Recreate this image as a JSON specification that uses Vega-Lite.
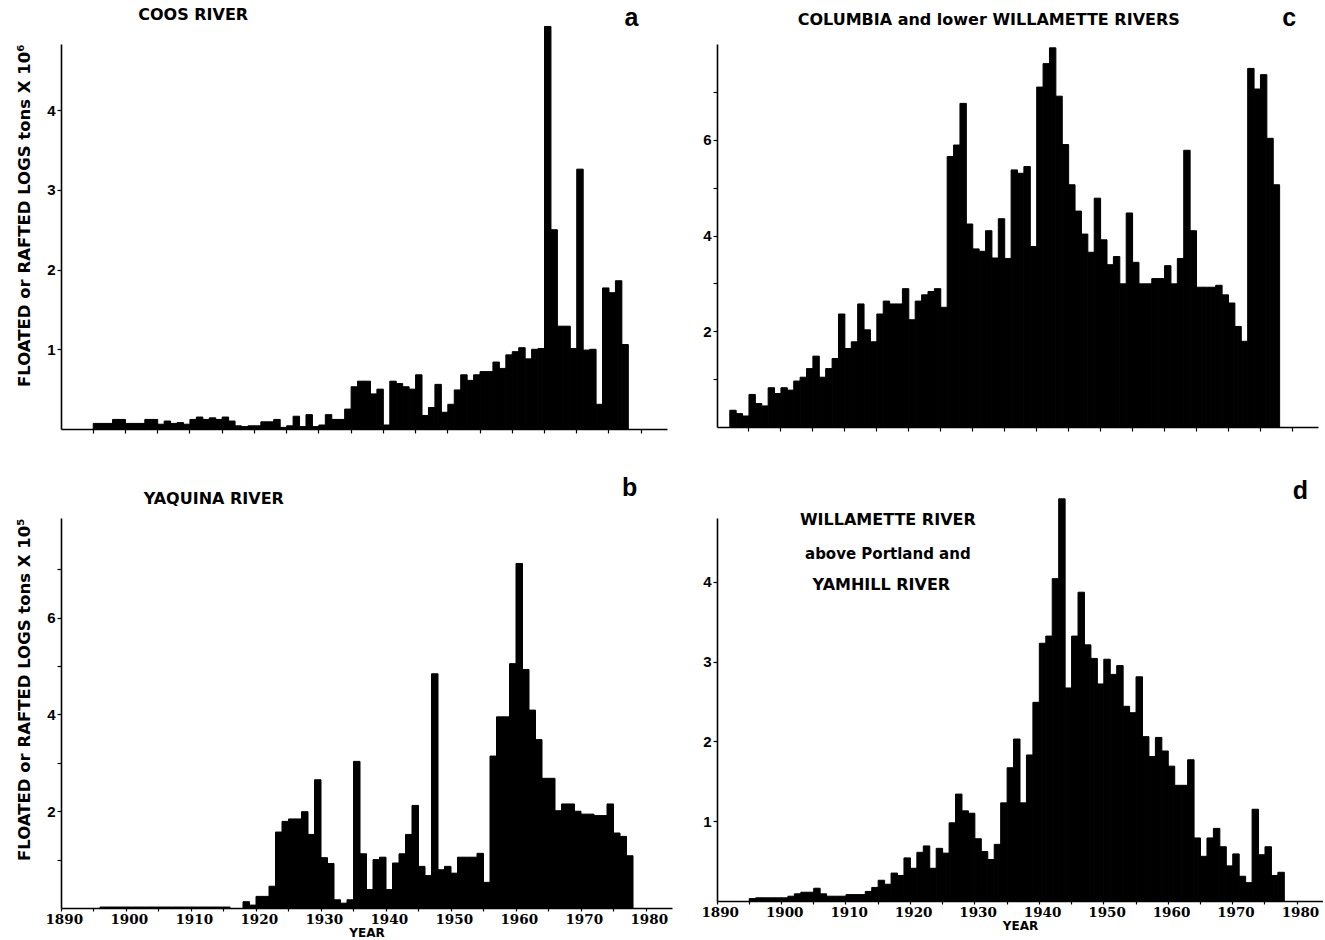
{
  "$schema": "https://vega.github.io/schema/vega-lite/v6.json",
  "background": "white",
  "padding": {"left": 16, "top": 5, "right": 0, "bottom": 0},
  "config": {
    "view": {"stroke": null},
    "font": "Liberation Sans",
    "axis": {"grid": false, "domainColor": "black", "tickColor": "black", "labelColor": "black", "titleColor": "black", "domainWidth": 1.6, "tickWidth": 1.2, "tickSize": 4}
  },
  "columns": 2,
  "bounds": "flush",
  "spacing": {"row": 89, "column": 45},
  "datasets": {
    "coos": [{"year":1895,"value":0.07},{"year":1896,"value":0.07},{"year":1897,"value":0.07},{"year":1898,"value":0.12},{"year":1899,"value":0.12},{"year":1900,"value":0.07},{"year":1901,"value":0.07},{"year":1902,"value":0.07},{"year":1903,"value":0.12},{"year":1904,"value":0.12},{"year":1905,"value":0.06},{"year":1906,"value":0.1},{"year":1907,"value":0.07},{"year":1908,"value":0.08},{"year":1909,"value":0.06},{"year":1910,"value":0.12},{"year":1911,"value":0.15},{"year":1912,"value":0.12},{"year":1913,"value":0.14},{"year":1914,"value":0.12},{"year":1915,"value":0.15},{"year":1916,"value":0.1},{"year":1917,"value":0.04},{"year":1918,"value":0.03},{"year":1919,"value":0.04},{"year":1920,"value":0.04},{"year":1921,"value":0.09},{"year":1922,"value":0.09},{"year":1923,"value":0.12},{"year":1924,"value":0.02},{"year":1925,"value":0.04},{"year":1926,"value":0.16},{"year":1927,"value":0.03},{"year":1928,"value":0.18},{"year":1929,"value":0.03},{"year":1930,"value":0.05},{"year":1931,"value":0.18},{"year":1932,"value":0.12},{"year":1933,"value":0.12},{"year":1934,"value":0.25},{"year":1935,"value":0.53},{"year":1936,"value":0.6},{"year":1937,"value":0.6},{"year":1938,"value":0.44},{"year":1939,"value":0.5},{"year":1940,"value":0.05},{"year":1941,"value":0.6},{"year":1942,"value":0.57},{"year":1943,"value":0.53},{"year":1944,"value":0.5},{"year":1945,"value":0.68},{"year":1946,"value":0.17},{"year":1947,"value":0.27},{"year":1948,"value":0.56},{"year":1949,"value":0.21},{"year":1950,"value":0.31},{"year":1951,"value":0.49},{"year":1952,"value":0.68},{"year":1953,"value":0.61},{"year":1954,"value":0.68},{"year":1955,"value":0.72},{"year":1956,"value":0.72},{"year":1957,"value":0.84},{"year":1958,"value":0.76},{"year":1959,"value":0.93},{"year":1960,"value":0.97},{"year":1961,"value":1.02},{"year":1962,"value":0.88},{"year":1963,"value":1.0},{"year":1964,"value":1.01},{"year":1965,"value":5.05},{"year":1966,"value":2.5},{"year":1967,"value":1.29},{"year":1968,"value":1.29},{"year":1969,"value":1.01},{"year":1970,"value":3.26},{"year":1971,"value":0.99},{"year":1972,"value":1.0},{"year":1973,"value":0.31},{"year":1974,"value":1.77},{"year":1975,"value":1.71},{"year":1976,"value":1.86},{"year":1977,"value":1.06}],
    "yaquina": [{"year":1896,"value":0.02},{"year":1897,"value":0.02},{"year":1898,"value":0.02},{"year":1899,"value":0.02},{"year":1900,"value":0.02},{"year":1901,"value":0.02},{"year":1902,"value":0.02},{"year":1903,"value":0.02},{"year":1904,"value":0.02},{"year":1905,"value":0.02},{"year":1906,"value":0.02},{"year":1907,"value":0.02},{"year":1908,"value":0.02},{"year":1909,"value":0.02},{"year":1910,"value":0.02},{"year":1911,"value":0.02},{"year":1912,"value":0.02},{"year":1913,"value":0.02},{"year":1914,"value":0.02},{"year":1915,"value":0.02},{"year":1918,"value":0.13},{"year":1919,"value":0.06},{"year":1920,"value":0.24},{"year":1921,"value":0.24},{"year":1922,"value":0.45},{"year":1923,"value":1.57},{"year":1924,"value":1.79},{"year":1925,"value":1.84},{"year":1926,"value":1.84},{"year":1927,"value":1.99},{"year":1928,"value":1.52},{"year":1929,"value":2.65},{"year":1930,"value":1.04},{"year":1931,"value":0.92},{"year":1932,"value":0.17},{"year":1933,"value":0.1},{"year":1934,"value":0.17},{"year":1935,"value":3.03},{"year":1936,"value":1.12},{"year":1937,"value":0.38},{"year":1938,"value":1.0},{"year":1939,"value":1.05},{"year":1940,"value":0.38},{"year":1941,"value":0.93},{"year":1942,"value":1.12},{"year":1943,"value":1.52},{"year":1944,"value":2.12},{"year":1945,"value":0.86},{"year":1946,"value":0.67},{"year":1947,"value":4.84},{"year":1948,"value":0.79},{"year":1949,"value":0.86},{"year":1950,"value":0.72},{"year":1951,"value":1.05},{"year":1952,"value":1.05},{"year":1953,"value":1.05},{"year":1954,"value":1.13},{"year":1955,"value":0.53},{"year":1956,"value":3.14},{"year":1957,"value":3.95},{"year":1958,"value":3.95},{"year":1959,"value":5.05},{"year":1960,"value":7.12},{"year":1961,"value":4.93},{"year":1962,"value":4.09},{"year":1963,"value":3.48},{"year":1964,"value":2.68},{"year":1965,"value":2.68},{"year":1966,"value":2.01},{"year":1967,"value":2.15},{"year":1968,"value":2.15},{"year":1969,"value":2.0},{"year":1970,"value":1.94},{"year":1971,"value":1.94},{"year":1972,"value":1.91},{"year":1973,"value":1.91},{"year":1974,"value":2.15},{"year":1975,"value":1.55},{"year":1976,"value":1.48},{"year":1977,"value":1.08}],
    "columbia": [{"year":1892,"value":0.35},{"year":1893,"value":0.28},{"year":1894,"value":0.23},{"year":1895,"value":0.68},{"year":1896,"value":0.49},{"year":1897,"value":0.44},{"year":1898,"value":0.82},{"year":1899,"value":0.7},{"year":1900,"value":0.82},{"year":1901,"value":0.77},{"year":1902,"value":0.96},{"year":1903,"value":1.04},{"year":1904,"value":1.22},{"year":1905,"value":1.48},{"year":1906,"value":1.04},{"year":1907,"value":1.22},{"year":1908,"value":1.43},{"year":1909,"value":2.36},{"year":1910,"value":1.64},{"year":1911,"value":1.78},{"year":1912,"value":2.57},{"year":1913,"value":2.03},{"year":1914,"value":1.78},{"year":1915,"value":2.36},{"year":1916,"value":2.63},{"year":1917,"value":2.57},{"year":1918,"value":2.57},{"year":1919,"value":2.89},{"year":1920,"value":2.24},{"year":1921,"value":2.63},{"year":1922,"value":2.76},{"year":1923,"value":2.83},{"year":1924,"value":2.89},{"year":1925,"value":2.5},{"year":1926,"value":5.65},{"year":1927,"value":5.89},{"year":1928,"value":6.76},{"year":1929,"value":4.24},{"year":1930,"value":3.72},{"year":1931,"value":3.67},{"year":1932,"value":4.1},{"year":1933,"value":3.53},{"year":1934,"value":4.35},{"year":1935,"value":3.52},{"year":1936,"value":5.37},{"year":1937,"value":5.3},{"year":1938,"value":5.44},{"year":1939,"value":3.77},{"year":1940,"value":7.1},{"year":1941,"value":7.59},{"year":1942,"value":7.92},{"year":1943,"value":6.91},{"year":1944,"value":5.9},{"year":1945,"value":5.06},{"year":1946,"value":4.51},{"year":1947,"value":4.03},{"year":1948,"value":3.65},{"year":1949,"value":4.78},{"year":1950,"value":3.91},{"year":1951,"value":3.39},{"year":1952,"value":3.56},{"year":1953,"value":2.99},{"year":1954,"value":4.47},{"year":1955,"value":3.44},{"year":1956,"value":2.99},{"year":1957,"value":2.99},{"year":1958,"value":3.1},{"year":1959,"value":3.1},{"year":1960,"value":3.37},{"year":1961,"value":2.99},{"year":1962,"value":3.52},{"year":1963,"value":5.78},{"year":1964,"value":4.1},{"year":1965,"value":2.92},{"year":1966,"value":2.92},{"year":1967,"value":2.92},{"year":1968,"value":2.96},{"year":1969,"value":2.76},{"year":1970,"value":2.59},{"year":1971,"value":2.1},{"year":1972,"value":1.79},{"year":1973,"value":7.49},{"year":1974,"value":7.06},{"year":1975,"value":7.36},{"year":1976,"value":6.03},{"year":1977,"value":5.06}],
    "willamette": [{"year":1895,"value":0.03},{"year":1896,"value":0.04},{"year":1897,"value":0.04},{"year":1898,"value":0.04},{"year":1899,"value":0.04},{"year":1900,"value":0.04},{"year":1901,"value":0.06},{"year":1902,"value":0.09},{"year":1903,"value":0.11},{"year":1904,"value":0.11},{"year":1905,"value":0.16},{"year":1906,"value":0.09},{"year":1907,"value":0.06},{"year":1908,"value":0.06},{"year":1909,"value":0.06},{"year":1910,"value":0.08},{"year":1911,"value":0.08},{"year":1912,"value":0.08},{"year":1913,"value":0.12},{"year":1914,"value":0.17},{"year":1915,"value":0.26},{"year":1916,"value":0.21},{"year":1917,"value":0.35},{"year":1918,"value":0.32},{"year":1919,"value":0.54},{"year":1920,"value":0.41},{"year":1921,"value":0.61},{"year":1922,"value":0.69},{"year":1923,"value":0.41},{"year":1924,"value":0.66},{"year":1925,"value":0.6},{"year":1926,"value":0.98},{"year":1927,"value":1.34},{"year":1928,"value":1.13},{"year":1929,"value":1.1},{"year":1930,"value":0.78},{"year":1931,"value":0.62},{"year":1932,"value":0.52},{"year":1933,"value":0.71},{"year":1934,"value":1.23},{"year":1935,"value":1.67},{"year":1936,"value":2.03},{"year":1937,"value":1.23},{"year":1938,"value":1.83},{"year":1939,"value":2.49},{"year":1940,"value":3.23},{"year":1941,"value":3.32},{"year":1942,"value":4.04},{"year":1943,"value":5.04},{"year":1944,"value":2.67},{"year":1945,"value":3.32},{"year":1946,"value":3.87},{"year":1947,"value":3.21},{"year":1948,"value":3.04},{"year":1949,"value":2.72},{"year":1950,"value":3.03},{"year":1951,"value":2.84},{"year":1952,"value":2.95},{"year":1953,"value":2.44},{"year":1954,"value":2.36},{"year":1955,"value":2.81},{"year":1956,"value":2.06},{"year":1957,"value":1.81},{"year":1958,"value":2.05},{"year":1959,"value":1.88},{"year":1960,"value":1.69},{"year":1961,"value":1.45},{"year":1962,"value":1.45},{"year":1963,"value":1.77},{"year":1964,"value":0.79},{"year":1965,"value":0.56},{"year":1966,"value":0.79},{"year":1967,"value":0.91},{"year":1968,"value":0.68},{"year":1969,"value":0.44},{"year":1970,"value":0.59},{"year":1971,"value":0.31},{"year":1972,"value":0.23},{"year":1973,"value":1.15},{"year":1974,"value":0.58},{"year":1975,"value":0.68},{"year":1976,"value":0.32},{"year":1977,"value":0.36}]
  },
  "concat": [
    {
      "width": 606, "height": 385,
      "data": {"name": "coos"},
      "layer": [
        {
          "mark": {"type": "bar", "color": "black", "stroke": "black", "strokeWidth": 1},
          "encoding": {
            "x": {"field": "year", "type": "ordinal", "sort": null,
              "scale": {"type": "band", "paddingInner": 0, "paddingOuter": 0, "domain": [1890,1891,1892,1893,1894,1895,1896,1897,1898,1899,1900,1901,1902,1903,1904,1905,1906,1907,1908,1909,1910,1911,1912,1913,1914,1915,1916,1917,1918,1919,1920,1921,1922,1923,1924,1925,1926,1927,1928,1929,1930,1931,1932,1933,1934,1935,1936,1937,1938,1939,1940,1941,1942,1943,1944,1945,1946,1947,1948,1949,1950,1951,1952,1953,1954,1955,1956,1957,1958,1959,1960,1961,1962,1963,1964,1965,1966,1967,1968,1969,1970,1971,1972,1973,1974,1975,1976,1977,1978,1979,1980,1981,1982,1983]},
              "axis": {"title": null, "labels": false, "bandPosition": 0, "values": [1895,1900,1905,1910,1915,1920,1925,1930,1935,1940,1945,1950,1955,1960,1965,1970,1975,1980]}},
            "y": {"field": "value", "type": "quantitative",
              "scale": {"domain": [0, 4.83], "nice": false},
              "axis": {"values": [1,2,3,4], "format": "d", "labelFont": "Liberation Sans", "labelFontWeight": "bold", "labelFontSize": 15, "labelPadding": 2,
                "title": "FLOATED or RAFTED LOGS tons X 10⁶", "titleFont": "DejaVu Sans", "titleFontWeight": "bold", "titleFontSize": 16.5, "titlePadding": 14, "titleAnchor": "end"}}
          }
        },
        {
          "data": {"values": [{"t": "COOS RIVER"}]},
          "mark": {"type": "text", "font": "DejaVu Sans", "fontWeight": "bold", "fontSize": 16, "align": "center", "baseline": "middle", "color": "black"},
          "encoding": {"x": {"datum": 1910, "type": "ordinal"}, "y": {"datum": 5.19, "type": "quantitative"}, "text": {"field": "t"}}
        },
        {
          "data": {"values": [{"t": "a"}]},
          "mark": {"type": "text", "font": "Liberation Sans", "fontWeight": "bold", "fontSize": 25, "align": "center", "baseline": "middle", "color": "black"},
          "encoding": {"x": {"datum": 1978, "type": "ordinal"}, "y": {"datum": 5.16, "type": "quantitative"}, "text": {"field": "t"}}
        }
      ]
    },
    {
      "width": 601, "height": 383,
      "data": {"name": "columbia"},
      "layer": [
        {
          "mark": {"type": "bar", "color": "black", "stroke": "black", "strokeWidth": 1},
          "encoding": {
            "x": {"field": "year", "type": "ordinal", "sort": null,
              "scale": {"type": "band", "paddingInner": 0, "paddingOuter": 0, "domain": [1890,1891,1892,1893,1894,1895,1896,1897,1898,1899,1900,1901,1902,1903,1904,1905,1906,1907,1908,1909,1910,1911,1912,1913,1914,1915,1916,1917,1918,1919,1920,1921,1922,1923,1924,1925,1926,1927,1928,1929,1930,1931,1932,1933,1934,1935,1936,1937,1938,1939,1940,1941,1942,1943,1944,1945,1946,1947,1948,1949,1950,1951,1952,1953,1954,1955,1956,1957,1958,1959,1960,1961,1962,1963,1964,1965,1966,1967,1968,1969,1970,1971,1972,1973,1974,1975,1976,1977,1978,1979,1980,1981,1982,1983]},
              "axis": {"title": null, "labels": false, "bandPosition": 0, "values": [1895,1900,1905,1910,1915,1920,1925,1930,1935,1940,1945,1950,1955,1960,1965,1970,1975,1980]}},
            "y": {"field": "value", "type": "quantitative",
              "scale": {"domain": [0, 8], "nice": false},
              "axis": {"values": [1,2,3,4,5,6,7], "format": "d", "labelExpr": "datum.value % 2 == 0 ? datum.label : ''", "labelFont": "Liberation Sans", "labelFontWeight": "bold", "labelFontSize": 15, "labelPadding": 2, "title": null}}
          }
        },
        {
          "data": {"values": [{"t": "COLUMBIA and lower WILLAMETTE RIVERS"}]},
          "mark": {"type": "text", "font": "DejaVu Sans", "fontWeight": "bold", "fontSize": 16, "align": "center", "baseline": "middle", "color": "black"},
          "encoding": {"x": {"datum": 1932, "type": "ordinal"}, "y": {"datum": 8.5, "type": "quantitative"}, "text": {"field": "t"}}
        },
        {
          "data": {"values": [{"t": "c"}]},
          "mark": {"type": "text", "font": "Liberation Sans", "fontWeight": "bold", "fontSize": 25, "align": "center", "baseline": "middle", "color": "black"},
          "encoding": {"x": {"datum": 1979, "type": "ordinal"}, "y": {"datum": 8.55, "type": "quantitative"}, "text": {"field": "t"}}
        }
      ]
    },
    {
      "width": 611, "height": 390,
      "data": {"name": "yaquina"},
      "layer": [
        {
          "mark": {"type": "bar", "color": "black", "stroke": "black", "strokeWidth": 1},
          "encoding": {
            "x": {"field": "year", "type": "ordinal", "sort": null,
              "scale": {"type": "band", "paddingInner": 0, "paddingOuter": 0, "domain": [1890,1891,1892,1893,1894,1895,1896,1897,1898,1899,1900,1901,1902,1903,1904,1905,1906,1907,1908,1909,1910,1911,1912,1913,1914,1915,1916,1917,1918,1919,1920,1921,1922,1923,1924,1925,1926,1927,1928,1929,1930,1931,1932,1933,1934,1935,1936,1937,1938,1939,1940,1941,1942,1943,1944,1945,1946,1947,1948,1949,1950,1951,1952,1953,1954,1955,1956,1957,1958,1959,1960,1961,1962,1963,1964,1965,1966,1967,1968,1969,1970,1971,1972,1973,1974,1975,1976,1977,1978,1979,1980,1981,1982,1983]},
              "axis": {"title": "YEAR", "titleFont": "DejaVu Sans", "titleFontWeight": "bold", "titleFontSize": 12, "titlePadding": 2, "bandPosition": 0, "labelAngle": 0, "tickSize": 3,
                "values": [1890,1895,1900,1905,1910,1915,1920,1925,1930,1935,1940,1945,1950,1955,1960,1965,1970,1975,1980],
                "labelExpr": "datum.value % 10 == 0 ? datum.label : ''", "labelFont": "DejaVu Serif", "labelFontWeight": "bold", "labelFontSize": 13.5, "labelPadding": 1}},
            "y": {"field": "value", "type": "quantitative",
              "scale": {"domain": [0, 8.06], "nice": false},
              "axis": {"values": [1,2,3,4,5,6,7], "format": "d", "labelExpr": "datum.value % 2 == 0 ? datum.label : ''", "labelFont": "Liberation Sans", "labelFontWeight": "bold", "labelFontSize": 15, "labelPadding": 2,
                "title": "FLOATED or RAFTED LOGS tons X 10⁵", "titleFont": "DejaVu Sans", "titleFontWeight": "bold", "titleFontSize": 16.5, "titlePadding": 14, "titleAnchor": "end"}}
          }
        },
        {
          "data": {"values": [{"t": "YAQUINA RIVER"}]},
          "mark": {"type": "text", "font": "DejaVu Sans", "fontWeight": "bold", "fontSize": 16, "align": "center", "baseline": "middle", "color": "black"},
          "encoding": {"x": {"datum": 1913, "type": "ordinal"}, "y": {"datum": 8.45, "type": "quantitative"}, "text": {"field": "t"}}
        },
        {
          "data": {"values": [{"t": "b"}]},
          "mark": {"type": "text", "font": "Liberation Sans", "fontWeight": "bold", "fontSize": 25, "align": "center", "baseline": "middle", "color": "black"},
          "encoding": {"x": {"datum": 1977, "type": "ordinal"}, "y": {"datum": 8.68, "type": "quantitative"}, "text": {"field": "t"}}
        }
      ]
    },
    {
      "width": 606, "height": 383,
      "data": {"name": "willamette"},
      "layer": [
        {
          "mark": {"type": "bar", "color": "black", "stroke": "black", "strokeWidth": 1},
          "encoding": {
            "x": {"field": "year", "type": "ordinal", "sort": null,
              "scale": {"type": "band", "paddingInner": 0, "paddingOuter": 0, "domain": [1890,1891,1892,1893,1894,1895,1896,1897,1898,1899,1900,1901,1902,1903,1904,1905,1906,1907,1908,1909,1910,1911,1912,1913,1914,1915,1916,1917,1918,1919,1920,1921,1922,1923,1924,1925,1926,1927,1928,1929,1930,1931,1932,1933,1934,1935,1936,1937,1938,1939,1940,1941,1942,1943,1944,1945,1946,1947,1948,1949,1950,1951,1952,1953,1954,1955,1956,1957,1958,1959,1960,1961,1962,1963,1964,1965,1966,1967,1968,1969,1970,1971,1972,1973,1974,1975,1976,1977,1978,1979,1980,1981,1982,1983]},
              "axis": {"title": "YEAR", "titleFont": "DejaVu Sans", "titleFontWeight": "bold", "titleFontSize": 12, "titlePadding": 2, "bandPosition": 0, "labelAngle": 0, "tickSize": 3,
                "values": [1890,1895,1900,1905,1910,1915,1920,1925,1930,1935,1940,1945,1950,1955,1960,1965,1970,1975,1980],
                "labelExpr": "datum.value % 10 == 0 ? datum.label : ''", "labelFont": "DejaVu Serif", "labelFontWeight": "bold", "labelFontSize": 13.5, "labelPadding": 1}},
            "y": {"field": "value", "type": "quantitative",
              "scale": {"domain": [0, 4.8], "nice": false},
              "axis": {"values": [1,2,3,4], "format": "d", "labelFont": "Liberation Sans", "labelFontWeight": "bold", "labelFontSize": 15, "labelPadding": 2, "title": null}}
          }
        },
        {
          "data": {"values": [{"t": "WILLAMETTE RIVER"}]},
          "mark": {"type": "text", "font": "DejaVu Sans", "fontWeight": "bold", "fontSize": 16, "align": "center", "baseline": "middle", "color": "black"},
          "encoding": {"x": {"datum": 1916, "type": "ordinal"}, "y": {"datum": 4.78, "type": "quantitative"}, "text": {"field": "t"}}
        },
        {
          "data": {"values": [{"t": "above Portland and"}]},
          "mark": {"type": "text", "font": "DejaVu Sans", "fontWeight": "bold", "fontSize": 15, "align": "center", "baseline": "middle", "color": "black"},
          "encoding": {"x": {"datum": 1916, "type": "ordinal"}, "y": {"datum": 4.35, "type": "quantitative"}, "text": {"field": "t"}}
        },
        {
          "data": {"values": [{"t": "YAMHILL RIVER"}]},
          "mark": {"type": "text", "font": "DejaVu Sans", "fontWeight": "bold", "fontSize": 16, "align": "center", "baseline": "middle", "color": "black"},
          "encoding": {"x": {"datum": 1915, "type": "ordinal"}, "y": {"datum": 3.96, "type": "quantitative"}, "text": {"field": "t"}}
        },
        {
          "data": {"values": [{"t": "d"}]},
          "mark": {"type": "text", "font": "Liberation Sans", "fontWeight": "bold", "fontSize": 25, "align": "center", "baseline": "middle", "color": "black"},
          "encoding": {"x": {"datum": 1980, "type": "ordinal"}, "y": {"datum": 5.14, "type": "quantitative"}, "text": {"field": "t"}}
        }
      ]
    }
  ]
}
